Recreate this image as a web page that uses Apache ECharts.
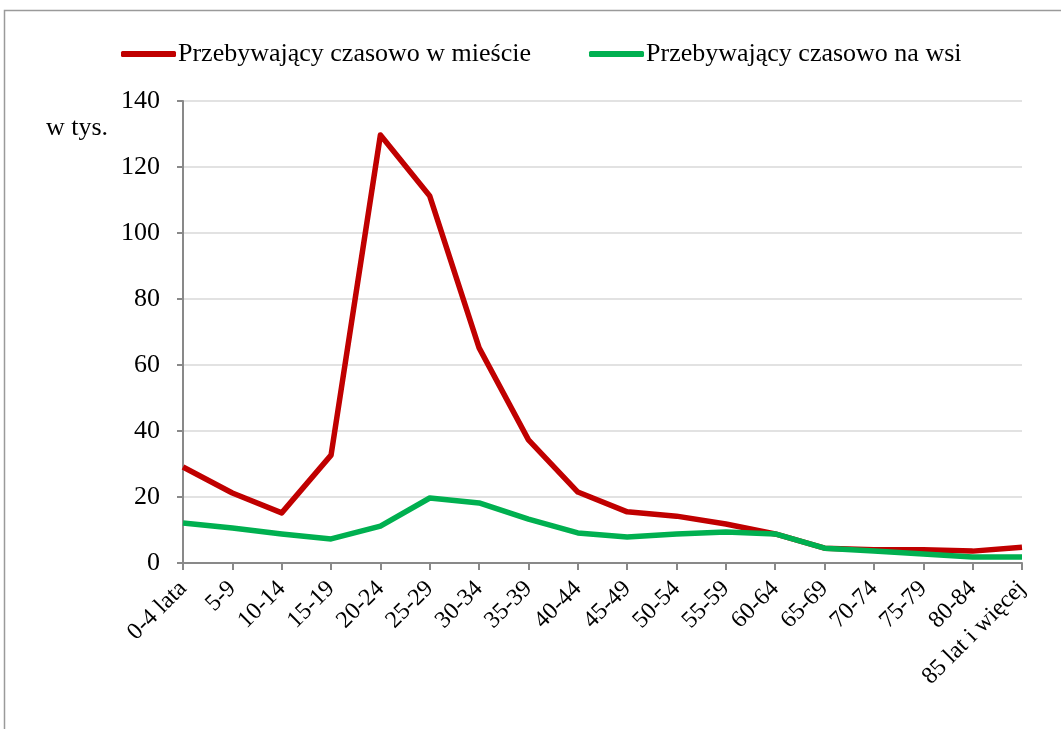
<!DOCTYPE html>
<html>
<head>
<meta charset="utf-8">
<script src="https://cdn.jsdelivr.net/npm/echarts@6/dist/echarts.min.js"></script>
<style>
  html, body { margin: 0; padding: 0; background: #fff; }
  #chart { width: 1061px; height: 729px; }
</style>
</head>
<body>
<div id="chart"></div>
<script>
const categories = ['0-4 lata', '5-9', '10-14', '15-19', '20-24', '25-29', '30-34', '35-39', '40-44',
  '45-49', '50-54', '55-59', '60-64', '65-69', '70-74', '75-79', '80-84', '85 lat i więcej']
const cityValues = [29.1, 21.2, 15.2, 32.7, 129.7, 111.2, 65.2, 37.3, 21.5, 15.5, 14.2, 11.8, 8.8, 4.5, 4.0, 4.0, 3.6, 4.8]
const villageValues = [12.1, 10.6, 8.8, 7.3, 11.2, 19.7, 18.2, 13.3, 9.1, 7.9, 8.8, 9.4, 8.8, 4.5, 3.6, 2.7, 1.8, 1.8]
const seriesNames = ['Przebywający czasowo w mieście', 'Przebywający czasowo na wsi']

const font = 'Liberation Serif'
const myChart = echarts.init(document.getElementById('chart'))

const option = {
  backgroundColor: '#fff',
  animation: false,
  textStyle: { fontFamily: font },
  graphic: [
    {
      type: 'rect',
      shape: { x: 4.5, y: 10.5, width: 1070, height: 730 },
      style: { fill: 'none', stroke: '#9a9a9a', lineWidth: 1.5 },
    },
    {
      type: 'text',
      left: 46,
      top: 115,
      style: { text: 'w tys.', font: '26px "Liberation Serif"', fill: '#000' },
    },
  ],
  legend: {
    top: 36,
    left: 116,
    icon: 'roundRect',
    itemWidth: 55,
    itemHeight: 6,
    itemGap: 58,
    textStyle: { fontFamily: font, fontSize: 26, color: '#000', padding: [0, 0, 0, -3] },
    data: seriesNames,
  },
  grid: {
    left: 183,
    right: 39,
    top: 101,
    bottom: 166,
    containLabel: false,
  },
  xAxis: {
    type: 'category',
    boundaryGap: false,
    data: categories,
    axisLine: { lineStyle: { color: '#898989', width: 2 } },
    axisTick: { show: true, length: 7, lineStyle: { color: '#898989', width: 2 } },
    axisLabel: {
      rotate: 45,
      margin: 22,
      interval: 0,
      fontFamily: font,
      fontSize: 24,
      color: '#000',
    },
  },
  yAxis: {
    type: 'value',
    min: 0,
    max: 140,
    interval: 20,
    axisLine: { show: true, lineStyle: { color: '#898989', width: 2 } },
    axisTick: { show: true, length: 6, lineStyle: { color: '#898989', width: 2 } },
    axisLabel: { fontFamily: font, fontSize: 26, color: '#000', margin: 23 },
    splitLine: { lineStyle: { color: '#d9d9d9', width: 1.5 } },
  },
  series: [
    {
      name: seriesNames[0],
      type: 'line',
      data: cityValues,
      symbol: 'none',
      lineStyle: { color: '#c00000', width: 5.5, join: 'round' },
      itemStyle: { color: '#c00000' },
      z: 2,
    },
    {
      name: seriesNames[1],
      type: 'line',
      data: villageValues,
      symbol: 'none',
      lineStyle: { color: '#00b050', width: 5.5, join: 'round' },
      itemStyle: { color: '#00b050' },
      z: 3,
    },
  ],
}

myChart.setOption(option)
</script>
</body>
</html>
